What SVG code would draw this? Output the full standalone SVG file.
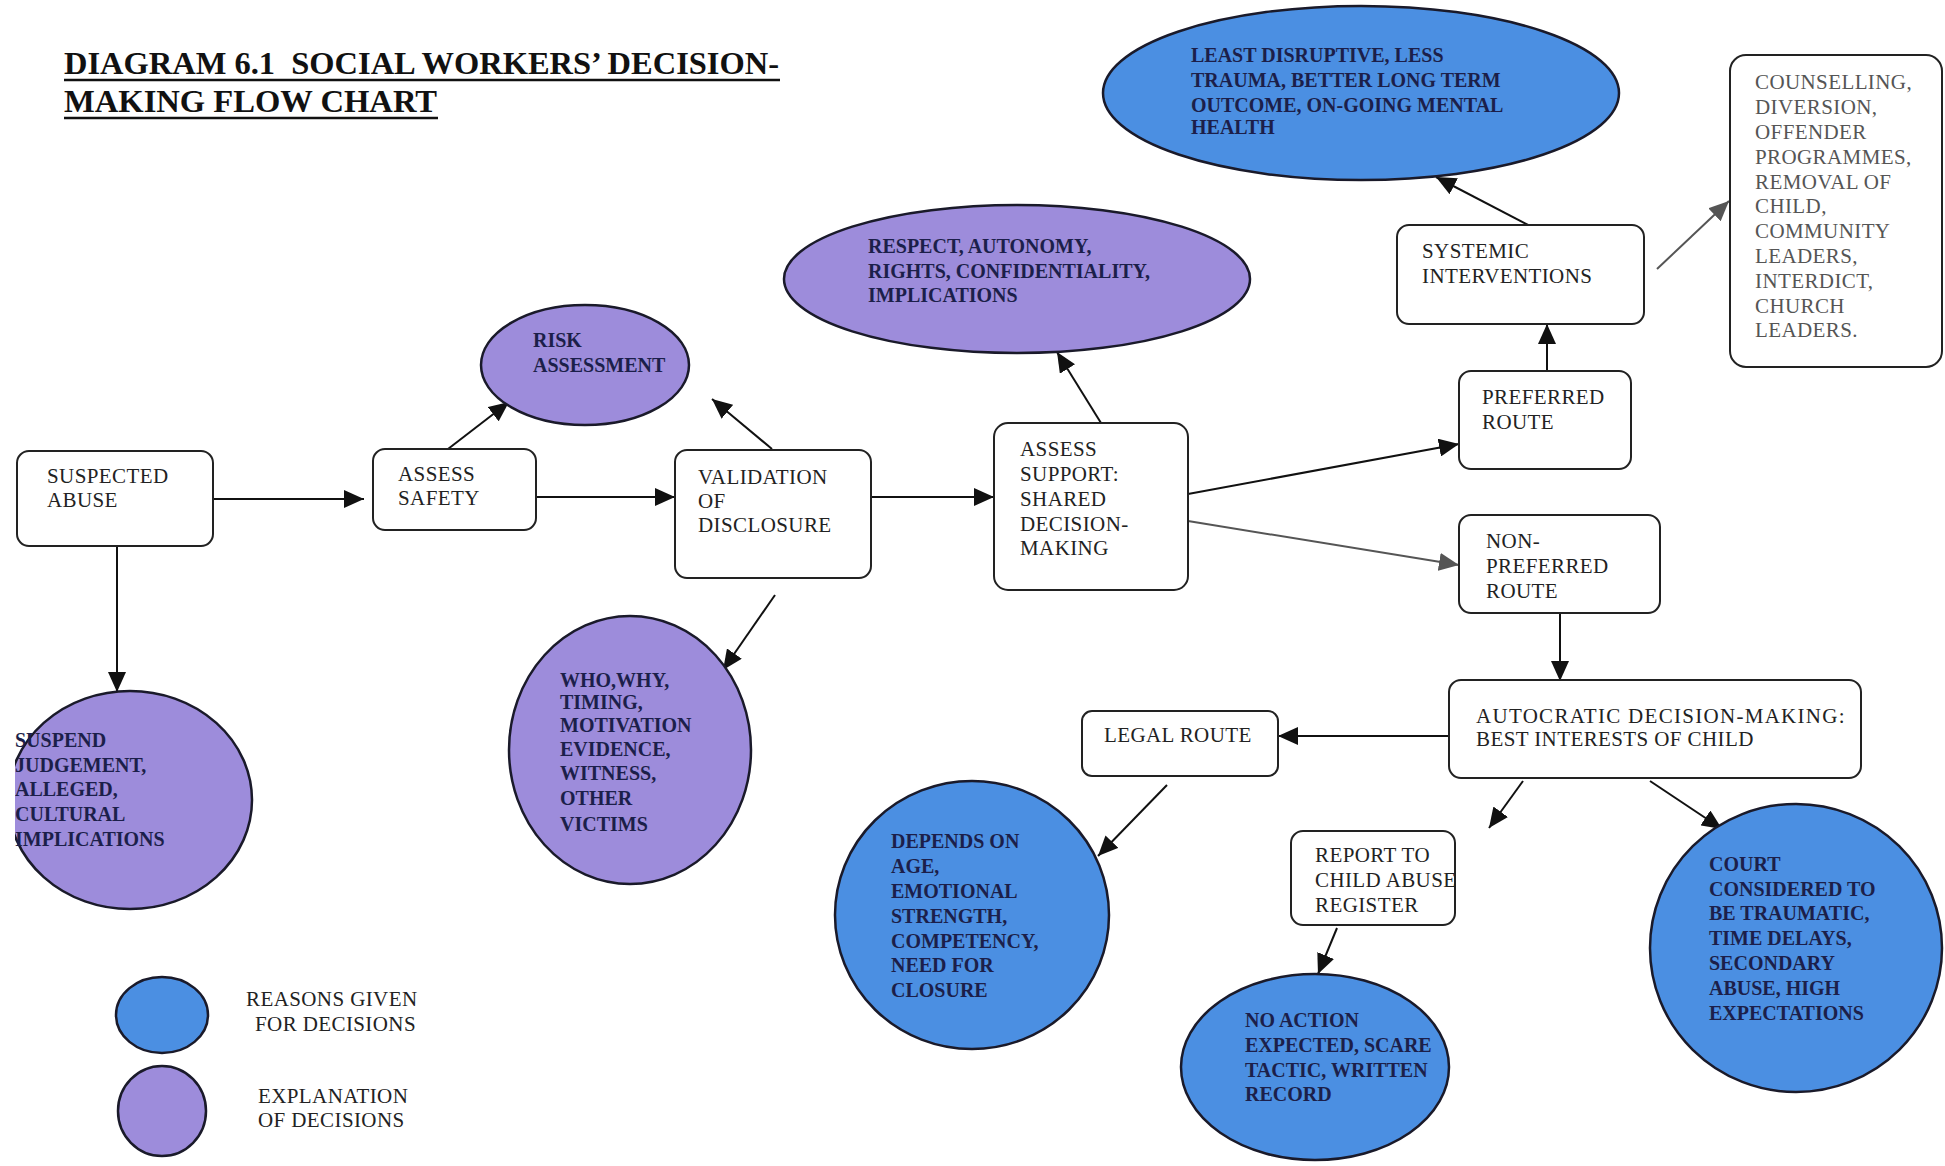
<svg xmlns="http://www.w3.org/2000/svg" width="1945" height="1166" viewBox="0 0 1945 1166">
  <defs>
    <marker id="arrow" markerUnits="userSpaceOnUse" markerWidth="22" markerHeight="18" refX="20" refY="9" orient="auto">
      <path d="M0,0 L20,9 L0,18 Z" fill="#111"/>
    </marker>
    <marker id="arrow-grey" markerUnits="userSpaceOnUse" markerWidth="22" markerHeight="18" refX="20" refY="9" orient="auto">
      <path d="M0,0 L20,9 L0,18 Z" fill="#555"/>
    </marker>
    <clipPath id="left-cut">
      <rect x="15" y="0" width="1930" height="1166"/>
    </clipPath>
  </defs>
  <style>
    .box { fill: #ffffff; stroke: #222; stroke-width: 2; }
    .reason { fill: #4b8fe2; stroke: #1a1a2a; stroke-width: 2.5; }
    .explain { fill: #9d8cdb; stroke: #1a1a2a; stroke-width: 2.5; }
    .t { font-family: "Liberation Serif", "Times New Roman", serif; font-size: 21px; letter-spacing: 0.4px; fill: #222; }
    .tg { font-family: "Liberation Serif", "Times New Roman", serif; font-size: 21px; letter-spacing: 0.4px; fill: #555; }
    .te { font-family: "Liberation Serif", "Times New Roman", serif; font-size: 20px; font-weight: bold; fill: #1c1f4a; }
    .title { font-family: "Liberation Serif", "Times New Roman", serif; font-size: 32px; font-weight: bold; fill: #111; white-space: pre; }
    .link { stroke: #111; stroke-width: 2; fill: none; marker-end: url(#arrow); }
    .link-grey { stroke: #555; stroke-width: 2; fill: none; marker-end: url(#arrow-grey); }
  </style>

  <rect x="0" y="0" width="1945" height="1166" fill="#ffffff"/>

  <!-- heading -->
  <g id="title">
    <text class="title" x="64" y="74" textLength="715" lengthAdjust="spacingAndGlyphs">DIAGRAM 6.1  SOCIAL WORKERS’ DECISION-</text>
    <line x1="64" y1="80" x2="780" y2="80" stroke="#111" stroke-width="2.5"/>
    <text class="title" x="64" y="112" textLength="373" lengthAdjust="spacingAndGlyphs">MAKING FLOW CHART</text>
    <line x1="64" y1="118" x2="438" y2="118" stroke="#111" stroke-width="2.5"/>
  </g>

  <!-- connectors -->
  <g id="connectors">
    <line class="link" x1="213" y1="499" x2="364" y2="499"/>
    <line class="link" x1="536" y1="497" x2="675" y2="497"/>
    <line class="link" x1="871" y1="497" x2="994" y2="497"/>
    <line class="link" x1="448" y1="449" x2="509" y2="402"/>
    <line class="link" x1="772" y1="449" x2="712" y2="399"/>
    <line class="link" x1="117" y1="546" x2="117" y2="692"/>
    <line class="link" x1="775" y1="595" x2="723" y2="670"/>
    <line class="link" x1="1101" y1="423" x2="1057" y2="352"/>
    <line class="link" x1="1188" y1="494" x2="1459" y2="444"/>
    <line class="link-grey" x1="1188" y1="521" x2="1459" y2="565"/>
    <line class="link" x1="1547" y1="371" x2="1547" y2="324"/>
    <line class="link" x1="1528" y1="225" x2="1436" y2="177"/>
    <line class="link-grey" x1="1657" y1="269" x2="1729" y2="201"/>
    <line class="link" x1="1560" y1="613" x2="1560" y2="681"/>
    <line class="link" x1="1449" y1="736" x2="1278" y2="736"/>
    <line class="link" x1="1167" y1="785" x2="1098" y2="856"/>
    <line class="link" x1="1523" y1="781" x2="1489" y2="828"/>
    <line class="link" x1="1650" y1="781" x2="1722" y2="829"/>
    <line class="link" x1="1337" y1="928" x2="1318" y2="974"/>
  </g>

  <!-- decision steps -->
  <g id="suspected-abuse">
    <rect class="box" x="17" y="451" width="196" height="95" rx="12"/>
    <text class="t" x="47" y="483">SUSPECTED</text>
    <text class="t" x="47" y="507">ABUSE</text>
  </g>
  <g id="assess-safety">
    <rect class="box" x="373" y="449" width="163" height="81" rx="12"/>
    <text class="t" x="398" y="481">ASSESS</text>
    <text class="t" x="398" y="505">SAFETY</text>
  </g>
  <g id="validation">
    <rect class="box" x="675" y="450" width="196" height="128" rx="12"/>
    <text class="t" x="698" y="484">VALIDATION</text>
    <text class="t" x="698" y="508">OF</text>
    <text class="t" x="698" y="532">DISCLOSURE</text>
  </g>
  <g id="assess-support">
    <rect class="box" x="994" y="423" width="194" height="167" rx="14"/>
    <text class="t" x="1020" y="456">ASSESS</text>
    <text class="t" x="1020" y="481">SUPPORT:</text>
    <text class="t" x="1020" y="506">SHARED</text>
    <text class="t" x="1020" y="531">DECISION-</text>
    <text class="t" x="1020" y="555">MAKING</text>
  </g>
  <g id="preferred-route">
    <rect class="box" x="1459" y="371" width="172" height="98" rx="12"/>
    <text class="t" x="1482" y="404">PREFERRED</text>
    <text class="t" x="1482" y="429">ROUTE</text>
  </g>
  <g id="non-preferred-route">
    <rect class="box" x="1459" y="515" width="201" height="98" rx="12"/>
    <text class="t" x="1486" y="548">NON-</text>
    <text class="t" x="1486" y="573">PREFERRED</text>
    <text class="t" x="1486" y="598">ROUTE</text>
  </g>
  <g id="systemic-interventions">
    <rect class="box" x="1397" y="225" width="247" height="99" rx="12"/>
    <text class="t" x="1422" y="258">SYSTEMIC</text>
    <text class="t" x="1422" y="283">INTERVENTIONS</text>
  </g>
  <g id="intervention-list">
    <rect class="box" x="1730" y="55" width="212" height="312" rx="16" stroke="#444"/>
    <text class="tg" x="1755" y="89">COUNSELLING,</text>
    <text class="tg" x="1755" y="114">DIVERSION,</text>
    <text class="tg" x="1755" y="139">OFFENDER</text>
    <text class="tg" x="1755" y="164">PROGRAMMES,</text>
    <text class="tg" x="1755" y="189">REMOVAL OF</text>
    <text class="tg" x="1755" y="213">CHILD,</text>
    <text class="tg" x="1755" y="238">COMMUNITY</text>
    <text class="tg" x="1755" y="263">LEADERS,</text>
    <text class="tg" x="1755" y="288">INTERDICT,</text>
    <text class="tg" x="1755" y="313">CHURCH</text>
    <text class="tg" x="1755" y="337">LEADERS.</text>
  </g>
  <g id="autocratic">
    <rect class="box" x="1449" y="680" width="412" height="98" rx="12"/>
    <text class="t" x="1476" y="723" textLength="369" lengthAdjust="spacing">AUTOCRATIC DECISION-MAKING:</text>
    <text class="t" x="1476" y="746">BEST INTERESTS OF CHILD</text>
  </g>
  <g id="legal-route">
    <rect class="box" x="1082" y="711" width="196" height="65" rx="10"/>
    <text class="t" x="1104" y="742">LEGAL ROUTE</text>
  </g>
  <g id="report-register">
    <rect class="box" x="1291" y="831" width="164" height="94" rx="12"/>
    <text class="t" x="1315" y="862">REPORT TO</text>
    <text class="t" x="1315" y="887">CHILD ABUSE</text>
    <text class="t" x="1315" y="912">REGISTER</text>
  </g>

  <!-- explanations (purple) -->
  <g id="risk-assessment">
    <ellipse class="explain" cx="585" cy="365" rx="104" ry="60"/>
    <text class="te" x="533" y="347">RISK</text>
    <text class="te" x="533" y="372">ASSESSMENT</text>
  </g>
  <g id="respect">
    <ellipse class="explain" cx="1017" cy="279" rx="233" ry="74"/>
    <text class="te" x="868" y="253">RESPECT, AUTONOMY,</text>
    <text class="te" x="868" y="278">RIGHTS, CONFIDENTIALITY,</text>
    <text class="te" x="868" y="302">IMPLICATIONS</text>
  </g>
  <g id="suspend-judgement" clip-path="url(#left-cut)">
    <ellipse class="explain" cx="130" cy="800" rx="122" ry="109"/>
    <text class="te" x="15" y="747">SUSPEND</text>
    <text class="te" x="15" y="772">JUDGEMENT,</text>
    <text class="te" x="15" y="796">ALLEGED,</text>
    <text class="te" x="15" y="821">CULTURAL</text>
    <text class="te" x="15" y="846">IMPLICATIONS</text>
  </g>
  <g id="who-why">
    <ellipse class="explain" cx="630" cy="750" rx="121" ry="134"/>
    <text class="te" x="560" y="687">WHO,WHY,</text>
    <text class="te" x="560" y="709">TIMING,</text>
    <text class="te" x="560" y="732">MOTIVATION</text>
    <text class="te" x="560" y="756">EVIDENCE,</text>
    <text class="te" x="560" y="780">WITNESS,</text>
    <text class="te" x="560" y="805">OTHER</text>
    <text class="te" x="560" y="831">VICTIMS</text>
  </g>

  <!-- reasons (blue) -->
  <g id="least-disruptive">
    <ellipse class="reason" cx="1361" cy="93" rx="258" ry="87"/>
    <text class="te" x="1191" y="62">LEAST DISRUPTIVE, LESS</text>
    <text class="te" x="1191" y="87">TRAUMA, BETTER LONG TERM</text>
    <text class="te" x="1191" y="112">OUTCOME, ON-GOING MENTAL</text>
    <text class="te" x="1191" y="134">HEALTH</text>
  </g>
  <g id="depends-on">
    <ellipse class="reason" cx="972" cy="915" rx="137" ry="134"/>
    <text class="te" x="891" y="848">DEPENDS ON</text>
    <text class="te" x="891" y="873">AGE,</text>
    <text class="te" x="891" y="898">EMOTIONAL</text>
    <text class="te" x="891" y="923">STRENGTH,</text>
    <text class="te" x="891" y="948">COMPETENCY,</text>
    <text class="te" x="891" y="972">NEED FOR</text>
    <text class="te" x="891" y="997">CLOSURE</text>
  </g>
  <g id="no-action">
    <ellipse class="reason" cx="1315" cy="1067" rx="134" ry="93"/>
    <text class="te" x="1245" y="1027">NO ACTION</text>
    <text class="te" x="1245" y="1052">EXPECTED, SCARE</text>
    <text class="te" x="1245" y="1077">TACTIC, WRITTEN</text>
    <text class="te" x="1245" y="1101">RECORD</text>
  </g>
  <g id="court">
    <ellipse class="reason" cx="1796" cy="948" rx="146" ry="144"/>
    <text class="te" x="1709" y="871">COURT</text>
    <text class="te" x="1709" y="896">CONSIDERED TO</text>
    <text class="te" x="1709" y="920">BE TRAUMATIC,</text>
    <text class="te" x="1709" y="945">TIME DELAYS,</text>
    <text class="te" x="1709" y="970">SECONDARY</text>
    <text class="te" x="1709" y="995">ABUSE, HIGH</text>
    <text class="te" x="1709" y="1020">EXPECTATIONS</text>
  </g>

  <!-- key -->
  <g id="legend">
    <ellipse class="reason" cx="162" cy="1015" rx="46" ry="38"/>
    <text class="t" x="246" y="1006">REASONS GIVEN</text>
    <text class="t" x="255" y="1031">FOR DECISIONS</text>
    <ellipse class="explain" cx="162" cy="1111" rx="44" ry="45"/>
    <text class="t" x="258" y="1103">EXPLANATION</text>
    <text class="t" x="258" y="1127">OF DECISIONS</text>
  </g>
</svg>
